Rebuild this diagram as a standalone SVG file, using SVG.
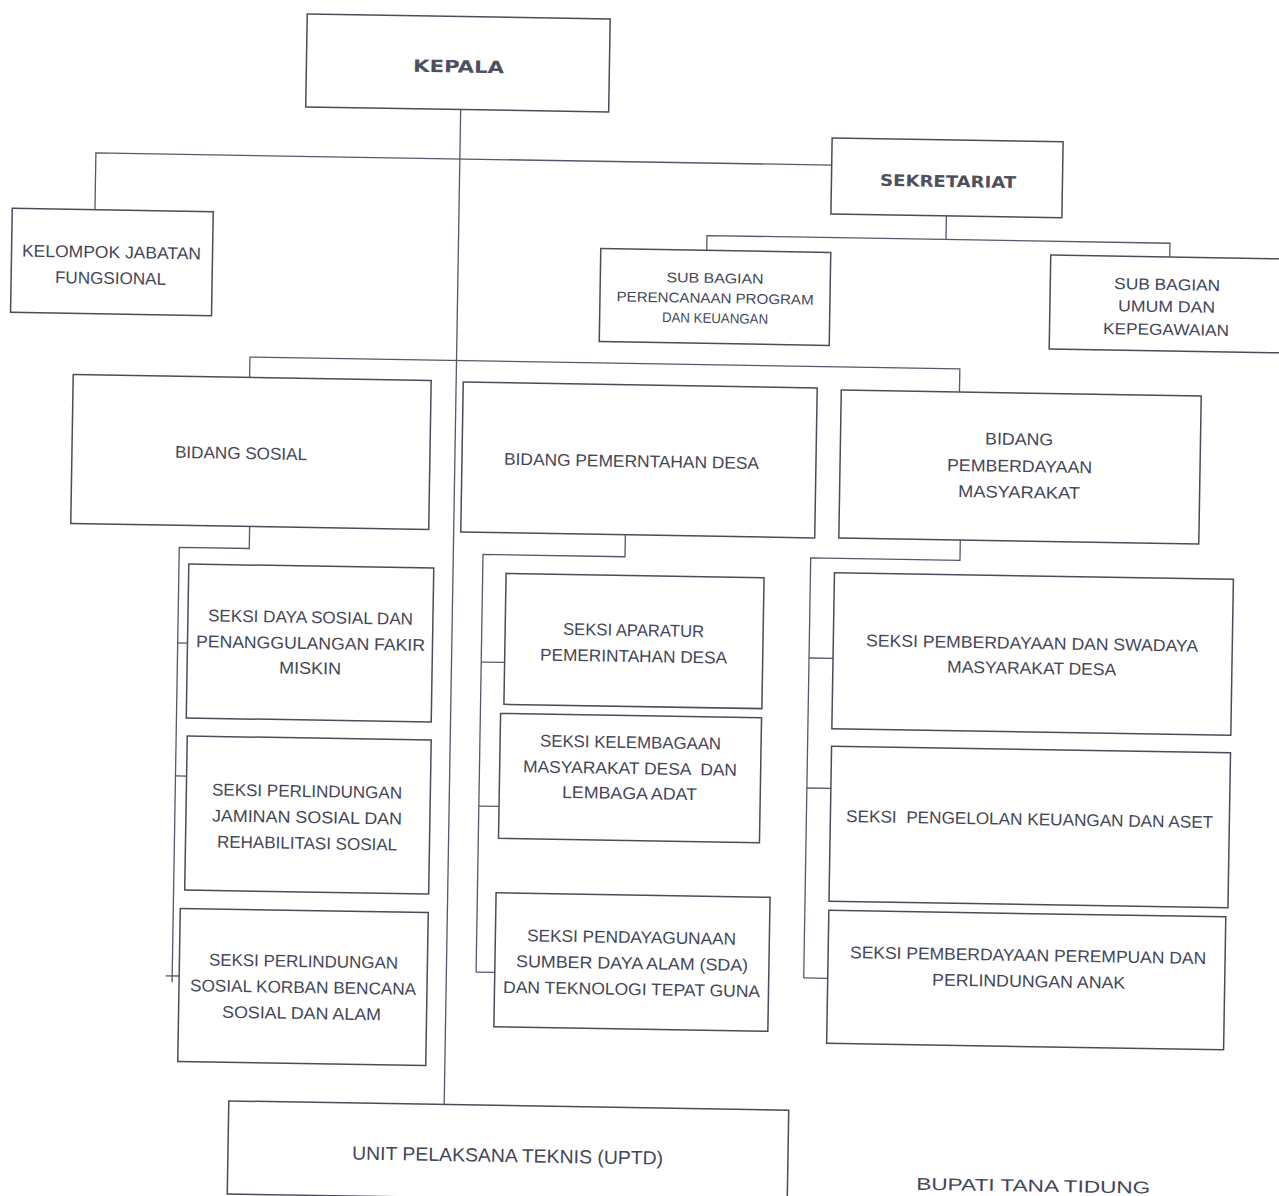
<svg xmlns="http://www.w3.org/2000/svg" width="1279" height="1196" viewBox="0 0 1279 1196">
<style>
.box{fill:none;stroke:#4b4c5a;stroke-width:1.5}
.ln{fill:none;stroke:#565769;stroke-width:1.3}
.t{font-family:'Liberation Sans',Arial,sans-serif;font-size:17px;fill:#434657;text-anchor:middle}
.s14{font-size:14px}
.s16{font-size:16px}
.s19{font-size:19px}
.b{font-family:'DejaVu Sans','Liberation Sans',sans-serif;font-weight:bold;fill:#4e505e}
</style>
<rect x="0" y="0" width="1279" height="1196" fill="#ffffff"/>
<g transform="rotate(0.95 640 598)">
<g id="connectors">
<line class="ln" x1="452.6" y1="112.5" x2="452.6" y2="1107.7"/>
<polyline class="ln" points="88.6,218.8 88.6,162 824.5,162"/>
<polyline class="ln" points="940,210.9 940,234.5"/>
<polyline class="ln" points="701,249.3 701,234.5 1164,234.5 1164,248.3"/>
<polyline class="ln" points="246,384 246,363.6 956,363.6 956,386.7"/>
<polyline class="ln" points="248.5,533 248.5,555 178.5,555 178.5,990"/>
<line class="ln" x1="178.5" y1="650.6" x2="188.3" y2="650.6"/>
<line class="ln" x1="178.5" y1="783.6" x2="189.6" y2="783.6"/>
<line class="ln" x1="172" y1="983.6" x2="185.5" y2="983.6"/>
<polyline class="ln" points="624.3,535 624.3,557 482.3,557 482.3,974.7"/>
<line class="ln" x1="482.3" y1="664.7" x2="505.7" y2="664.7"/>
<line class="ln" x1="482.3" y1="808.7" x2="502.5" y2="808.7"/>
<line class="ln" x1="482.3" y1="974.7" x2="501" y2="974.7"/>
<polyline class="ln" points="959.3,534.7 959.3,555 810,555 810,975.2"/>
<line class="ln" x1="810" y1="655.2" x2="834" y2="655.2"/>
<line class="ln" x1="810" y1="785.2" x2="834" y2="785.2"/>
<line class="ln" x1="810" y1="975.2" x2="834" y2="975.2"/>
</g>
<g id="kepala">
<rect class="box" x="297.6" y="19.5" width="303" height="93"/>
<text class="t b" x="449.8" y="75.7" font-size="19.5" textLength="91" lengthAdjust="spacingAndGlyphs">KEPALA</text>
</g>
<g id="sekretariat">
<rect class="box" x="824.5" y="134.9" width="231" height="76"/>
<text class="t b s16" x="941.2" y="181.9" textLength="136" lengthAdjust="spacingAndGlyphs">SEKRETARIAT</text>
</g>
<g id="kelompok-jabatan-fungsional">
<rect class="box" x="5.9" y="218.8" width="201" height="104"/>
<text class="t" x="105.9" y="266.8" textLength="179" lengthAdjust="spacingAndGlyphs">KELOMPOK JABATAN</text>
<text class="t" x="105.3" y="292.8" textLength="111" lengthAdjust="spacingAndGlyphs">FUNGSIONAL</text>
</g>
<g id="subbag-perencanaan">
<rect class="box" x="595" y="249.3" width="230" height="93"/>
<text class="t s14" x="709.8" y="281.8" textLength="97" lengthAdjust="spacingAndGlyphs">SUB BAGIAN</text>
<text class="t s14" x="710.1" y="301.8" textLength="197" lengthAdjust="spacingAndGlyphs">PERENCANAAN PROGRAM</text>
<text class="t s14" x="710.4" y="321.8" textLength="106" lengthAdjust="spacingAndGlyphs">DAN KEUANGAN</text>
</g>
<g id="subbag-umum">
<rect class="box" x="1045" y="248.3" width="245" height="94"/>
<text class="t s16" x="1161.9" y="281.3" textLength="106" lengthAdjust="spacingAndGlyphs">SUB BAGIAN</text>
<text class="t s16" x="1161.8" y="303.3" textLength="97" lengthAdjust="spacingAndGlyphs">UMUM DAN</text>
<text class="t s16" x="1161.6" y="326.3" textLength="126" lengthAdjust="spacingAndGlyphs">KEPEGAWAIAN</text>
</g>
<g id="bidang-sosial">
<rect class="box" x="69.6" y="384" width="358" height="149"/>
<text class="t" x="238.7" y="465.6" textLength="132" lengthAdjust="spacingAndGlyphs">BIDANG SOSIAL</text>
</g>
<g id="bidang-pemerintahan-desa">
<rect class="box" x="459.7" y="385" width="354" height="150"/>
<text class="t" x="629.3" y="467.1" textLength="255" lengthAdjust="spacingAndGlyphs">BIDANG PEMERNTAHAN DESA</text>
</g>
<g id="bidang-pemberdayaan">
<rect class="box" x="837.8" y="386.7" width="360" height="148"/>
<text class="t" x="1016.5" y="438.7" textLength="68" lengthAdjust="spacingAndGlyphs">BIDANG</text>
<text class="t" x="1017.4" y="465.7" textLength="145" lengthAdjust="spacingAndGlyphs">PEMBERDAYAAN</text>
<text class="t" x="1017.3" y="491.7" textLength="122" lengthAdjust="spacingAndGlyphs">MASYARAKAT</text>
</g>
<g id="seksi-daya-sosial">
<rect class="box" x="188.3" y="571.5" width="245" height="154"/>
<text class="t" x="310.9" y="628.5" textLength="205" lengthAdjust="spacingAndGlyphs">SEKSI DAYA SOSIAL DAN</text>
<text class="t" x="311.3" y="654.5" textLength="229" lengthAdjust="spacingAndGlyphs">PENANGGULANGAN FAKIR</text>
<text class="t" x="311.3" y="679.5" textLength="62" lengthAdjust="spacingAndGlyphs">MISKIN</text>
</g>
<g id="seksi-jaminan-sosial">
<rect class="box" x="189.6" y="743.5" width="244" height="154"/>
<text class="t" x="310.3" y="802.5" textLength="190" lengthAdjust="spacingAndGlyphs">SEKSI PERLINDUNGAN</text>
<text class="t" x="310.7" y="828.5" textLength="190" lengthAdjust="spacingAndGlyphs">JAMINAN SOSIAL DAN</text>
<text class="t" x="311.2" y="854.5" textLength="180" lengthAdjust="spacingAndGlyphs">REHABILITASI SOSIAL</text>
</g>
<g id="seksi-korban-bencana">
<rect class="box" x="185.5" y="916" width="248" height="153"/>
<text class="t" x="309.6" y="972.6" textLength="189" lengthAdjust="spacingAndGlyphs">SEKSI PERLINDUNGAN</text>
<text class="t" x="309.6" y="998.6" textLength="226" lengthAdjust="spacingAndGlyphs">SOSIAL KORBAN BENCANA</text>
<text class="t" x="308.5" y="1024.6" textLength="159" lengthAdjust="spacingAndGlyphs">SOSIAL DAN ALAM</text>
</g>
<g id="seksi-aparatur">
<rect class="box" x="505.7" y="575.6" width="258" height="131"/>
<text class="t" x="634.1" y="636.1" textLength="141" lengthAdjust="spacingAndGlyphs">SEKSI APARATUR</text>
<text class="t" x="634.6" y="662.1" textLength="187" lengthAdjust="spacingAndGlyphs">PEMERINTAHAN DESA</text>
</g>
<g id="seksi-kelembagaan">
<rect class="box" x="502.5" y="715.7" width="261" height="125"/>
<text class="t" x="633" y="748.2" textLength="181" lengthAdjust="spacingAndGlyphs">SEKSI KELEMBAGAAN</text>
<text class="t" x="632.9" y="774.2" textLength="214" lengthAdjust="spacingAndGlyphs" xml:space="preserve">MASYARAKAT DESA  DAN</text>
<text class="t" x="632.8" y="799.2" textLength="135" lengthAdjust="spacingAndGlyphs">LEMBAGA ADAT</text>
</g>
<g id="seksi-pendayagunaan">
<rect class="box" x="501" y="895.1" width="274" height="134"/>
<text class="t" x="637.2" y="943.1" textLength="209" lengthAdjust="spacingAndGlyphs">SEKSI PENDAYAGUNAAN</text>
<text class="t" x="638.2" y="969.1" textLength="232" lengthAdjust="spacingAndGlyphs">SUMBER DAYA ALAM (SDA)</text>
<text class="t" x="638.1" y="995.1" textLength="257" lengthAdjust="spacingAndGlyphs">DAN TEKNOLOGI TEPAT GUNA</text>
</g>
<g id="seksi-swadaya">
<rect class="box" x="834" y="569.5" width="399" height="156"/>
<text class="t" x="1032.8" y="642.5" textLength="332" lengthAdjust="spacingAndGlyphs">SEKSI PEMBERDAYAAN DAN SWADAYA</text>
<text class="t" x="1032.8" y="667.5" textLength="169" lengthAdjust="spacingAndGlyphs">MASYARAKAT DESA</text>
</g>
<g id="seksi-pengelolan">
<rect class="box" x="834" y="743" width="399" height="155"/>
<text class="t" x="1033.3" y="818.5" textLength="367" lengthAdjust="spacingAndGlyphs" xml:space="preserve">SEKSI  PENGELOLAN KEUANGAN DAN ASET</text>
</g>
<g id="seksi-perempuan">
<rect class="box" x="834" y="907.1" width="397" height="133"/>
<text class="t" x="1034" y="954.6" textLength="356" lengthAdjust="spacingAndGlyphs">SEKSI PEMBERDAYAAN PEREMPUAN DAN</text>
<text class="t" x="1035" y="980.6" textLength="193" lengthAdjust="spacingAndGlyphs">PERLINDUNGAN ANAK</text>
</g>
<g id="uptd">
<rect class="box" x="237.2" y="1107.7" width="560" height="93"/>
<text class="t s19" x="516.9" y="1164.2" textLength="311" lengthAdjust="spacingAndGlyphs">UNIT PELAKSANA TEKNIS (UPTD)</text>
</g>
<g id="bupati">
<text class="t" x="1043" y="1185" font-size="19" textLength="234" lengthAdjust="spacingAndGlyphs">BUPATI TANA TIDUNG</text>
</g>
</g>
</svg>
